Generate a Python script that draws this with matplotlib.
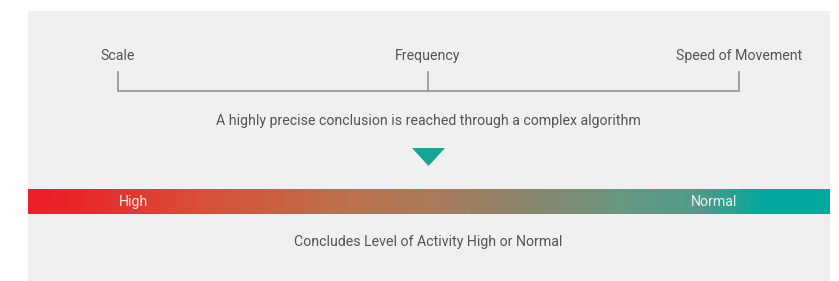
import numpy as np
import matplotlib.pyplot as plt
from matplotlib.colors import LinearSegmentedColormap
from matplotlib.patches import Rectangle, Polygon

# factors along the bracket (label, position)
factors = ['Scale', 'Frequency', 'Speed of Movement']
factor_x = [118, 428, 739]

# gradient stops for the activity bar (position, colour)
stop_pos = [0.0, 0.04, 0.21, 0.38, 0.51, 0.61, 0.74, 0.84, 0.92, 1.0]
stop_col = ['#EC2029', '#EA2329', '#D94E37', '#C16E4B', '#A87C5C', '#8E8469',
            '#699880', '#509B8C', '#00A89D', '#00A89D']

level_labels = ['High', 'Normal']
level_x = [133, 714]

middle_text = 'A highly precise conclusion is reached through a complex algorithm'
bottom_text = 'Concludes Level of Activity High or Normal'

plt.rcParams['font.family'] = ['Roboto', 'DejaVu Sans']
W, H = 839, 281
fig = plt.figure(figsize=(W / 100, H / 100), dpi=100)
ax = fig.add_axes([0, 0, 1, 1])
ax.set_xlim(0, W)
ax.set_ylim(H, 0)
ax.axis('off')

text_col = '#555555'
line_col = '#9a9a9a'
fs = 10.2

# grey panel
ax.add_patch(Rectangle((28, 11), 802, 275, facecolor='#F0F0F0', edgecolor='none', zorder=0))

# bracket
ax.plot([factor_x[0], factor_x[0], factor_x[-1], factor_x[-1]], [72, 91, 91, 72],
        color=line_col, lw=1.3, solid_joinstyle='miter', zorder=2)
for x, lab in zip(factor_x, factors):
    if x not in (factor_x[0], factor_x[-1]):
        ax.plot([x, x], [72, 91], color=line_col, lw=1.3, zorder=2)
    ax.text(x, 56, lab, ha='center', va='center', fontsize=fs, color=text_col)

ax.text(428, 121, middle_text, ha='center', va='center', fontsize=fs, color=text_col)

# triangle pointer
ax.add_patch(Polygon([(412, 148), (445, 148), (428.5, 166)], closed=True,
                     facecolor='#13A597', edgecolor='none', zorder=2))

# gradient bar
cmap = LinearSegmentedColormap.from_list('act', list(zip(stop_pos, stop_col)))
grad = np.linspace(0, 1, 800).reshape(1, -1)
ax.imshow(grad, cmap=cmap, aspect='auto', extent=(28, 830, 214, 189),
          interpolation='bilinear', zorder=1)
for x, lab in zip(level_x, level_labels):
    ax.text(x, 202, lab, ha='center', va='center', fontsize=fs, color='#F4ECEA', zorder=3)

ax.text(428, 242, bottom_text, ha='center', va='center', fontsize=fs, color=text_col)

ax.set_xlim(0, W)
ax.set_ylim(H, 0)
fig.savefig('out.png', dpi=100, facecolor='white')
